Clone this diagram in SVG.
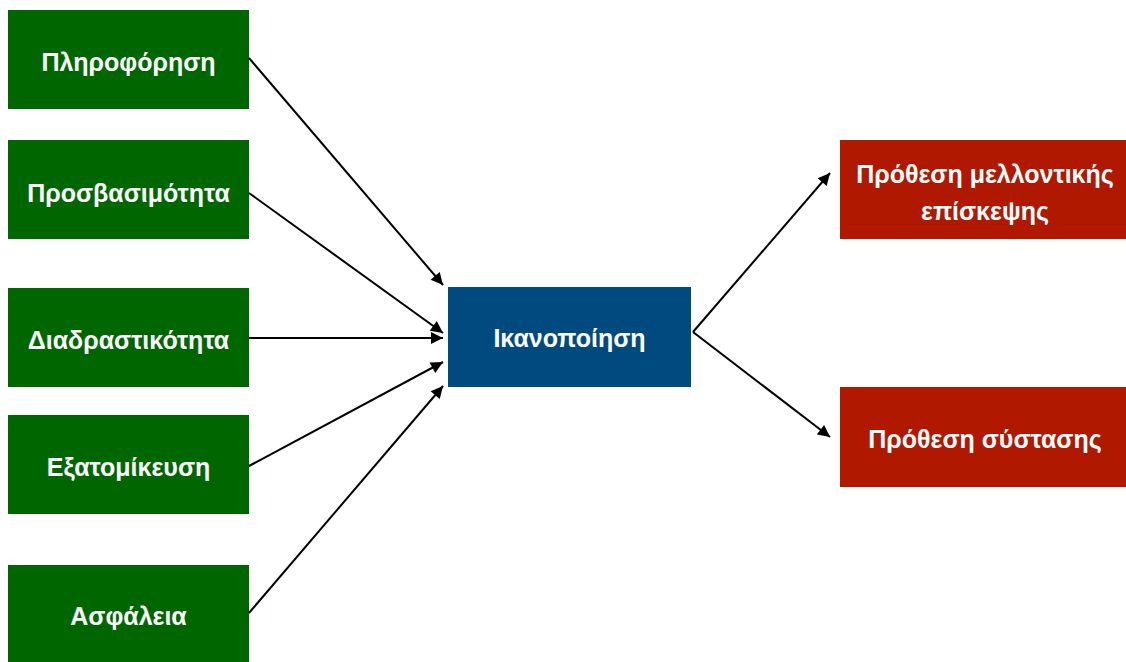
<svg xmlns="http://www.w3.org/2000/svg" width="1126" height="662" viewBox="0 0 1126 662">
  <style>
    .factor { fill: #006600; }
    .core { fill: #004A80; }
    .outcome { fill: #B01800; }
    .label { fill: #ffffff; font-family: "Liberation Sans", Arial, sans-serif; font-size: 25px; font-weight: bold; text-anchor: middle; }
    .edge { stroke: #000000; stroke-width: 2; fill: none; marker-end: url(#arrow); }
  </style>
  <defs>
    <marker id="arrow" viewBox="0 0 10 10" refX="10" refY="5" markerUnits="userSpaceOnUse" markerWidth="13" markerHeight="12" orient="auto">
      <path d="M0,0 L10,5 L0,10 Z" fill="#000000"/>
    </marker>
  </defs>
  <rect width="1126" height="662" fill="#ffffff"/>

  <!-- factors on the left -->
  <g id="node-pliroforisi">
    <rect class="factor" x="8" y="10" width="241" height="99"/>
    <text class="label" x="128.5" y="71">Πληροφόρηση</text>
  </g>
  <g id="node-prosvasimotita">
    <rect class="factor" x="8" y="140" width="241" height="99"/>
    <text class="label" x="128.5" y="202">Προσβασιμότητα</text>
  </g>
  <g id="node-diadrastikotita">
    <rect class="factor" x="8" y="288" width="241" height="99"/>
    <text class="label" x="128.5" y="349">Διαδραστικότητα</text>
  </g>
  <g id="node-exatomikefsi">
    <rect class="factor" x="8" y="415" width="241" height="99"/>
    <text class="label" x="128.5" y="476">Εξατομίκευση</text>
  </g>
  <g id="node-asfaleia">
    <rect class="factor" x="8" y="565" width="241" height="99"/>
    <text class="label" x="128.5" y="625">Ασφάλεια</text>
  </g>

  <!-- central construct -->
  <g id="node-ikanopoiisi">
    <rect class="core" x="448" y="287" width="243" height="100"/>
    <text class="label" x="569.5" y="347">Ικανοποίηση</text>
  </g>

  <!-- outcomes on the right -->
  <g id="node-prothesi-episkepsis">
    <rect class="outcome" x="840" y="140" width="286" height="99"/>
    <text class="label" x="985" y="183">Πρόθεση μελλοντικής</text>
    <text class="label" x="985" y="220">επίσκεψης</text>
  </g>
  <g id="node-prothesi-systasis">
    <rect class="outcome" x="840" y="387" width="286" height="100"/>
    <text class="label" x="985" y="448">Πρόθεση σύστασης</text>
  </g>

  <!-- connectors -->
  <g id="connectors">
    <line class="edge" x1="249" y1="58" x2="443" y2="285"/>
    <line class="edge" x1="249" y1="193" x2="443" y2="333"/>
    <line class="edge" x1="249" y1="338" x2="443" y2="338"/>
    <line class="edge" x1="249" y1="466" x2="443" y2="362"/>
    <line class="edge" x1="249" y1="613" x2="443" y2="386"/>
    <line class="edge" x1="693" y1="332" x2="830" y2="173"/>
    <line class="edge" x1="693" y1="332" x2="830" y2="437"/>
  </g>
</svg>
